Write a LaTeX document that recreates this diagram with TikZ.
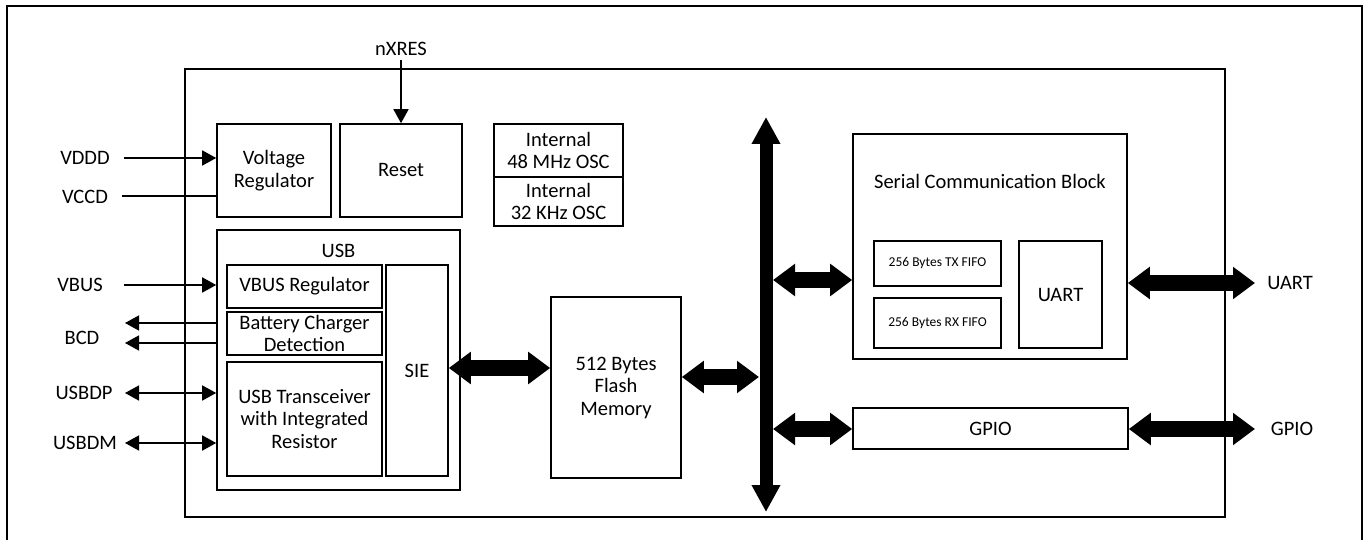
\documentclass[tikz,border=0pt]{standalone}
\usepackage{fontspec}
\setmainfont{Carlito}
\usetikzlibrary{arrows.meta, positioning}

\begin{document}
\begin{tikzpicture}[x=1pt, y=-1pt,
    font=\fontsize{20.5}{22.5}\selectfont,
    blk/.style={draw, line width=1.6pt, inner sep=0pt, align=center},
    small/.style={font=\fontsize{13.5}{15}\selectfont},
    pin/.style={line width=1.6pt, -{Triangle[width=15pt,length=14pt]}},
    pinboth/.style={line width=1.6pt, {Triangle[width=15pt,length=14pt]}-{Triangle[width=15pt,length=14pt]}},
    fat/.style={line width=16pt, {Triangle[width=31pt,length=22pt]}-{Triangle[width=31pt,length=22pt]}},
    bus/.style={line width=13pt, {Triangle[width=27pt,length=27pt]}-{Triangle[width=27pt,length=27pt]}}]
    \useasboundingbox (0,0) rectangle (1369,540);
    \draw[line width=2pt] (7,540) -- (7,6) -- (1362,6) -- (1362,540);
    \draw[line width=1.2pt] (185,69) rectangle (1225,517);

    % left column
    \node[blk, minimum width=114pt, minimum height=93pt] (vr) at (274,170.5) {Voltage\\Regulator};
    \node[blk, minimum width=122pt, minimum height=93pt] (rst) at (401,170.5) {Reset};
    \node[blk, minimum width=243pt, minimum height=260pt] (usb) at (338.5,360) {};
    \node (usbl) at (338.5,251) {USB};
    \node[blk, minimum width=155pt, minimum height=43pt] (vbr) at (304.5,286.5) {VBUS Regulator};
    \node[blk, minimum width=155pt, minimum height=43pt] (bcd) at (304.5,333.5) {Battery Charger\\Detection};
    \node[blk, minimum width=155pt, minimum height=114pt] (xcv) at (304.5,419) {USB Transceiver\\with Integrated\\Resistor};
    \node[blk, minimum width=62pt, minimum height=211pt] (sie) at (417,370.5) {SIE};

    % clocks and flash
    \node[blk, minimum width=129pt, minimum height=53pt] (o48) at (558.5,150.5) {Internal\\48 MHz OSC};
    \node[blk, minimum width=129pt, minimum height=49pt] (o32) at (558.5,201.5) {Internal\\32 KHz OSC};
    \node[blk, minimum width=130pt, minimum height=181pt] (fl) at (616,387.5) {512 Bytes\\Flash\\Memory};

    % serial block and gpio
    \node[blk, minimum width=274pt, minimum height=225pt] (scb) at (990,246.5) {};
    \node (scbl) at (990,181) {Serial Communication Block};
    \node[blk, small, minimum width=127pt, minimum height=45pt] (tx) at (937.5,263.5) {256 Bytes TX FIFO};
    \node[blk, small, minimum width=127pt, minimum height=50pt] (rx) at (937.5,323) {256 Bytes RX FIFO};
    \node[blk, minimum width=83pt, minimum height=107pt] (ua) at (1060.5,294.5) {UART};
    \node[blk, minimum width=275pt, minimum height=41pt] (gp) at (990.5,428.5) {GPIO};

    % pins
    \node (nx) at (401,49) {nXRES};
    \node (vddd) at (85,158) {VDDD};
    \node (vccd) at (85,197) {VCCD};
    \node (vbus) at (80,285) {VBUS};
    \node (bcdp) at (82,338) {BCD};
    \node (dp) at (84,393) {USBDP};
    \node (dm) at (85,443) {USBDM};
    \node (uap) at (1290,283) {UART};
    \node (gpp) at (1292,429) {GPIO};

    \coordinate (vddd-in) at (124,158);
    \coordinate (vccd-in) at (122,196);
    \coordinate (vbus-in) at (124,285);
    \coordinate (bcd-a) at (125,323);
    \coordinate (bcd-b) at (125,343);
    \coordinate (dp-in) at (125,393);
    \coordinate (dm-in) at (125,443);
    \draw[pin] ([yshift=-1pt]nx.south) -- (rst.north);
    \draw[pin] (vddd-in) -- (vddd-in -| vr.west);
    \draw[line width=1.6pt] (vccd-in) -- (vccd-in -| vr.west);
    \draw[pin] (vbus-in) -- (vbus-in -| usb.west);
    \draw[pin] (bcd-a -| usb.west) -- (bcd-a);
    \draw[pin] (bcd-b -| usb.west) -- (bcd-b);
    \draw[pinboth] (dp-in) -- (dp-in -| usb.west);
    \draw[pinboth] (dm-in) -- (dm-in -| usb.west);

    % buses
    \coordinate (bus-t) at (766,117);
    \coordinate (bus-b) at (766,512);
    \coordinate (bus-l) at (759,377);
    \coordinate (b1) at (773,280);
    \coordinate (b2) at (773,429);
    \coordinate (u-out) at (1255,283);
    \coordinate (g-out) at (1255,429);
    \draw[bus] (bus-t) -- (bus-b);
    \draw[fat] ([yshift=2.5pt]sie.east) -- ([yshift=2.5pt]sie.east -| fl.west);
    \draw[fat] (bus-l -| fl.east) -- (bus-l);
    \draw[fat] (b1) -- (b1 -| scb.west);
    \draw[fat] (b2) -- (b2 -| gp.west);
    \draw[fat] (u-out -| scb.east) -- (u-out);
    \draw[fat] (g-out -| gp.east) -- (g-out);
\end{tikzpicture}
\end{document}
